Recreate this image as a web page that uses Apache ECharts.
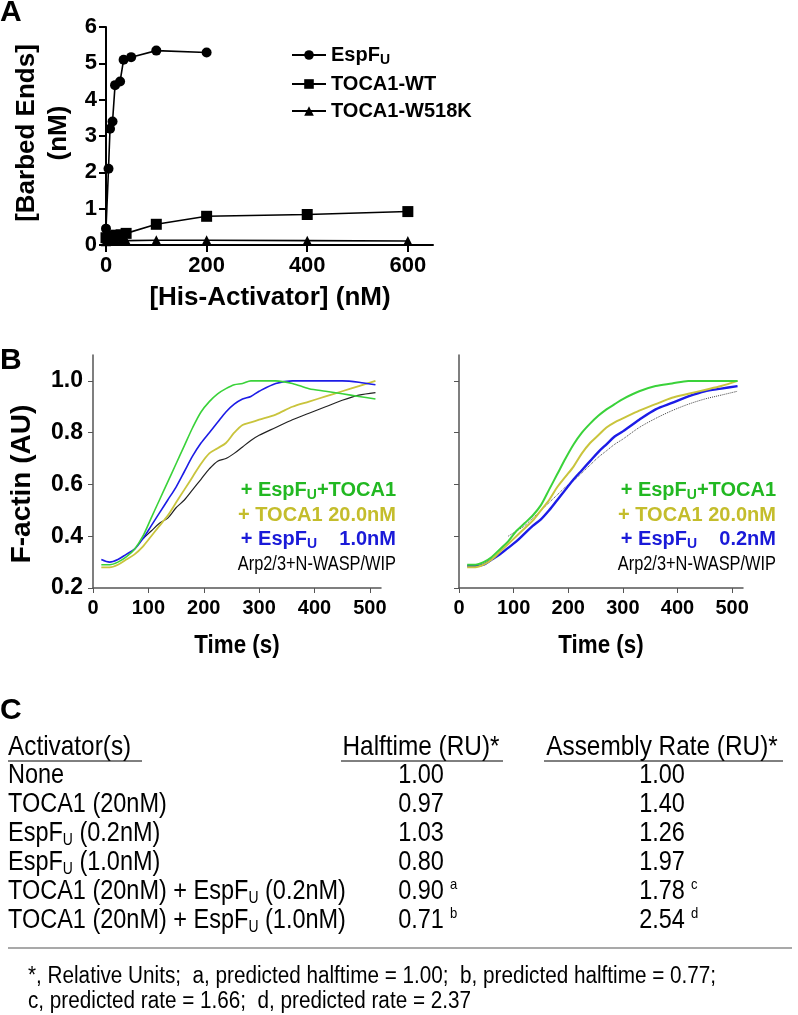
<!DOCTYPE html>
<html><head><meta charset="utf-8">
<script src="https://cdn.jsdelivr.net/npm/echarts@6/dist/echarts.min.js"></script>
<style>html,body{margin:0;padding:0;background:#fff}#c{width:798px;height:1015px}</style>
</head><body><div id="c"></div>
<script>
// ---------- Panel A data ----------
const espfX = [0, 5, 8, 13, 18, 28, 35, 50, 100, 200];
const espfY = [0.45, 2.1, 3.2, 3.4, 4.4, 4.5, 5.1, 5.17, 5.35, 5.3];
const tocaX = [0, 10, 20, 30, 40, 100, 200, 400, 600];
const tocaY = [0.2, 0.25, 0.27, 0.28, 0.32, 0.57, 0.79, 0.84, 0.92];
const w518X = [0, 10, 20, 30, 40, 100, 200, 400, 600];
const w518Y = [0.1, 0.12, 0.11, 0.12, 0.12, 0.13, 0.13, 0.12, 0.11];
const aXTicks = [0, 200, 400, 600];

// ---------- Panel B data ----------
const timeB = [15,30,45,60,75,90,105,120,135,150,165,180,195,210,225,240,255,270,285,300,330,360,390,420,450,480,510];
const greenL  = [.29,.29,.30,.32,.35,.40,.47,.54,.61,.68,.75,.82,.88,.92,.95,.97,.985,.99,1.0,1.0,1.0,.99,.97,.96,.95,.94,.93];
const blueL   = [.31,.30,.31,.33,.35,.39,.44,.49,.54,.59,.65,.71,.76,.80,.84,.88,.91,.93,.94,.96,.99,1.0,1.0,1.0,1.0,.995,.985];
const yellowL = [.28,.28,.29,.31,.33,.36,.40,.44,.48,.53,.58,.63,.68,.72,.74,.76,.80,.83,.84,.85,.87,.90,.92,.94,.96,.98,1.0];
const blackL  = [null,null,null,null,null,.39,.42,.45,.47,.51,.54,.58,.62,.66,.69,.70,.72,.745,.77,.79,.82,.85,.875,.90,.925,.945,.955];
const greenR  = [.29,.29,.30,.32,.35,.38,.42,.45,.48,.52,.58,.64,.70,.755,.80,.835,.865,.89,.91,.93,.96,.98,.99,1.0,1.0,1.0,1.0];
const yellowR = [.28,.28,.29,.31,.34,.37,.40,.43,.46,.50,.54,.59,.63,.67,.72,.76,.79,.82,.84,.855,.885,.91,.935,.95,.965,.98,1.0];
const blueR   = [.285,.285,.29,.31,.33,.355,.38,.41,.44,.465,.50,.54,.58,.62,.655,.69,.725,.755,.785,.805,.85,.89,.915,.94,.96,.97,.98];
const blackR  = [null,null,null,null,null,.40,.42,.44,.47,.50,.53,.56,.59,.615,.645,.675,.705,.73,.755,.775,.82,.855,.885,.91,.93,.945,.96];
const bYTicks = [0.2, 0.4, 0.6, 0.8, 1.0];
const bXTicks = [0, 100, 200, 300, 400, 500];

// ---------- Panel C data ----------
const tableActivators = ['None', 'TOCA1 (20nM)', 'EspF{sub|U} (0.2nM)', 'EspF{sub|U} (1.0nM)', 'TOCA1 (20nM) + EspF{sub|U} (0.2nM)', 'TOCA1 (20nM) + EspF{sub|U} (1.0nM)'];
const tableHalftime = ['1.00', '0.97', '1.03', '0.80', '0.90', '0.71'];
const tableHalfSup = ['', '', '', '', 'a', 'b'];
const tableRate = ['1.00', '1.40', '1.26', '1.97', '1.78', '2.54'];
const tableRateSup = ['', '', '', '', 'c', 'd'];
const footnotes = ['*, Relative Units;  a, predicted halftime = 1.00;  b, predicted halftime = 0.77;', 'c, predicted rate = 1.66;  d, predicted rate = 2.37'];

const zip = (xs, ys) => xs.map((x, i) => [x, ys[i]]);
const AR = 'Arial, "Liberation Sans", sans-serif';
const GREEN = '#3ad23a', GREEN_T = '#22b822';
const YEL = '#c9c43c', YEL_T = '#c4bd2c';
const BLUE = '#1c1ce6', BLUE_T = '#1a1ad8';

const chart = echarts.init(document.getElementById('c'), null, {renderer: 'canvas'});

function bAxisX(gi) {
  return {
    gridIndex: gi, type: 'value', min: 0, max: 520,
    axisLine: {show: true, lineStyle: {color: '#555', width: 1.5}},
    axisTick: {show: true, inside: false, length: 5, lineStyle: {color: '#555', width: 1}, customValues: bXTicks},
    axisLabel: {show: true, customValues: bXTicks, fontFamily: AR, fontWeight: 'bold', fontSize: 20, color: '#000', margin: 10},
    splitLine: {show: false}
  };
}
function bAxisY(gi, showLabels) {
  return {
    gridIndex: gi, type: 'value', min: 0.2, max: 1.1,
    axisLine: {show: true, lineStyle: {color: '#555', width: 1.5}},
    axisTick: {show: true, inside: false, length: 5, lineStyle: {color: '#555', width: 1}, customValues: bYTicks},
    axisLabel: {show: showLabels, customValues: bYTicks, formatter: v => v.toFixed(1), fontFamily: AR, fontWeight: 'bold', fontSize: 23, color: '#000', margin: 10},
    splitLine: {show: false}
  };
}
function bLine(name, gi, vals, color, width, type) {
  return {
    name: name, type: 'line', xAxisIndex: gi, yAxisIndex: gi, data: zip(timeB, vals),
    symbol: 'none', smooth: 0.3, connectNulls: false,
    lineStyle: {color: color, width: width, type: type || 'solid'}, z: 3
  };
}

function txt(x, y, text, opts) {
  opts = opts || {};
  const fam = opts.family || AR;
  return {
    type: 'text', x: x, y: y, rotation: opts.rotation || 0, scaleX: opts.scaleX || 1, z: 10,
    style: {
      text: text, fill: opts.color || '#000', font: (opts.weight || 'normal') + ' ' + (opts.size || 18) + 'px ' + fam,
      textAlign: opts.align || 'left', textVerticalAlign: 'middle',
      rich: {sub: {fontSize: opts.subSize || 12, verticalAlign: 'top', padding: [opts.subPad || 9, 0, 0, 0],
                   fill: opts.color || '#000', fontFamily: fam, fontWeight: opts.weight || 'normal'}}
    }
  };
}

const graphics = [];
// Panel letters
graphics.push(txt(0, 13, 'A', {weight: 'bold', size: 30}));
graphics.push(txt(0, 361, 'B', {weight: 'bold', size: 30}));
graphics.push(txt(0, 711, 'C', {weight: 'bold', size: 30}));
// Panel A titles
graphics.push(txt(27, 133, '[Barbed Ends]', {weight: 'bold', size: 26, align: 'center', rotation: Math.PI / 2}));
graphics.push(txt(59, 133, '(nM)', {weight: 'bold', size: 26, align: 'center', rotation: Math.PI / 2}));
graphics.push(txt(270, 298, '[His-Activator] (nM)', {weight: 'bold', size: 26, align: 'center'}));
// Panel B titles
graphics.push(txt(22, 484, 'F-actin (AU)', {weight: 'bold', size: 28, align: 'center', rotation: Math.PI / 2}));
graphics.push(txt(237, 646, 'Time (s)', {weight: 'bold', size: 26, align: 'center', scaleX: 0.86}));
graphics.push(txt(601, 646, 'Time (s)', {weight: 'bold', size: 26, align: 'center', scaleX: 0.86}));
// Panel B annotations
[[396, '1.0nM'], [776, '0.2nM']].forEach(([rx, conc]) => {
  graphics.push(txt(rx, 490, '+ EspF{sub|U}+TOCA1', {weight: 'bold', size: 20, align: 'right', color: GREEN_T, subSize: 14, subPad: 10}));
  graphics.push(txt(rx, 515, '+ TOCA1 20.0nM', {weight: 'bold', size: 20, align: 'right', color: YEL_T}));
  graphics.push(txt(rx, 539, '+ EspF{sub|U}    ' + conc, {weight: 'bold', size: 20, align: 'right', color: BLUE_T, subSize: 14, subPad: 10}));
  graphics.push(txt(rx, 564, 'Arp2/3+N-WASP/WIP', {size: 21, align: 'right', scaleX: 0.78}));
});
// Panel C table (condensed look)
const colAct = 8, colHalf = 421, colRate = 662;
const yHead = 747, rowH = 29;
const TS = 27, TSX = 0.87;
graphics.push(txt(colAct, yHead, 'Activator(s)', {size: 28, scaleX: TSX}));
graphics.push(txt(colHalf, yHead, 'Halftime (RU)*', {size: 28, align: 'center', scaleX: TSX}));
graphics.push(txt(colRate, yHead, 'Assembly Rate (RU)*', {size: 28, align: 'center', scaleX: TSX}));
tableActivators.forEach((a, i) => {
  const y = yHead + rowH * (i + 1);
  graphics.push(txt(colAct, y, a, {size: TS, subSize: 16, subPad: 13, scaleX: TSX}));
  graphics.push(txt(colHalf, y, tableHalftime[i], {size: TS, align: 'center', scaleX: TSX}));
  graphics.push(txt(colRate, y, tableRate[i], {size: TS, align: 'center', scaleX: TSX}));
  if (tableHalfSup[i]) graphics.push(txt(colHalf + 29, y - 7, tableHalfSup[i], {size: 15, scaleX: TSX}));
  if (tableRateSup[i]) graphics.push(txt(colRate + 29, y - 7, tableRateSup[i], {size: 15, scaleX: TSX}));
});
footnotes.forEach((f, i) => graphics.push(txt(28, 977 + 25 * i, f, {size: 23, scaleX: 0.9})));

const option = {
  backgroundColor: '#fff',
  animation: false,
  grid: [
    {left: 106, top: 27, width: 327, height: 218},
    {left: 93, top: 355, width: 288, height: 233},
    {left: 459, top: 355, width: 284, height: 233}
  ],
  xAxis: [
    {gridIndex: 0, type: 'value', min: 0, max: 650,
     axisLine: {show: true, lineStyle: {color: '#000', width: 2}},
     axisTick: {show: true, length: 7, lineStyle: {color: '#000', width: 2}, customValues: aXTicks},
     axisLabel: {customValues: aXTicks, fontFamily: AR, fontWeight: 'bold', fontSize: 22, color: '#000', margin: 10},
     splitLine: {show: false}},
    bAxisX(1), bAxisX(2)
  ],
  yAxis: [
    {gridIndex: 0, type: 'value', min: 0, max: 6, interval: 1,
     axisLine: {show: true, lineStyle: {color: '#000', width: 2}},
     axisTick: {show: true, length: 7, lineStyle: {color: '#000', width: 2}},
     axisLabel: {fontFamily: AR, fontWeight: 'bold', fontSize: 22, color: '#000', margin: 9},
     splitLine: {show: false}},
    bAxisY(1, true), bAxisY(2, false)
  ],
  legend: {
    show: true, orient: 'vertical', left: 286, top: 40, itemGap: 7, itemWidth: 34, itemHeight: 12,
    data: ['EspFU', 'TOCA1-WT', 'TOCA1-W518K'],
    formatter: n => n === 'EspFU' ? 'EspF{sub|U}' : n,
    textStyle: {fontFamily: AR, fontWeight: 'bold', fontSize: 20, color: '#000',
      rich: {sub: {fontFamily: AR, fontWeight: 'bold', fontSize: 14, verticalAlign: 'top', padding: [10, 0, 0, 0]}}}
  },
  series: [
    {name: 'EspFU', type: 'line', xAxisIndex: 0, yAxisIndex: 0, data: zip(espfX, espfY),
     symbol: 'circle', symbolSize: 10, color: '#000', lineStyle: {color: '#000', width: 1.6}, itemStyle: {color: '#000'}},
    {name: 'TOCA1-WT', type: 'line', xAxisIndex: 0, yAxisIndex: 0, data: zip(tocaX, tocaY),
     symbol: 'rect', symbolSize: 11, color: '#000', lineStyle: {color: '#000', width: 1.6}, itemStyle: {color: '#000'}},
    {name: 'TOCA1-W518K', type: 'line', xAxisIndex: 0, yAxisIndex: 0, data: zip(w518X, w518Y),
     symbol: 'triangle', symbolSize: 10, color: '#000', lineStyle: {color: '#000', width: 1.6}, itemStyle: {color: '#000'}},
    bLine('K-L', 1, blackL, '#222', 1.2),
    bLine('Y-L', 1, yellowL, YEL, 1.8),
    bLine('B-L', 1, blueL, BLUE, 1.6),
    bLine('G-L', 1, greenL, GREEN, 1.6),
    bLine('K-R', 2, blackR, '#444', 1, 'dotted'),
    bLine('B-R', 2, blueR, BLUE, 2.4),
    bLine('Y-R', 2, yellowR, YEL, 2),
    bLine('G-R', 2, greenR, GREEN, 2)
  ],
  graphic: {elements: graphics.concat([
    {type: 'line', z: 10, shape: {x1: 8, y1: 761, x2: 142, y2: 761}, style: {stroke: '#000', lineWidth: 1}},
    {type: 'line', z: 10, shape: {x1: 341, y1: 761, x2: 503, y2: 761}, style: {stroke: '#000', lineWidth: 1}},
    {type: 'line', z: 10, shape: {x1: 544, y1: 761, x2: 783, y2: 761}, style: {stroke: '#000', lineWidth: 1}},
    {type: 'line', z: 10, shape: {x1: 8, y1: 948, x2: 792, y2: 948}, style: {stroke: '#555', lineWidth: 1.2}}
  ])}
};
chart.setOption(option);
</script></body></html>
